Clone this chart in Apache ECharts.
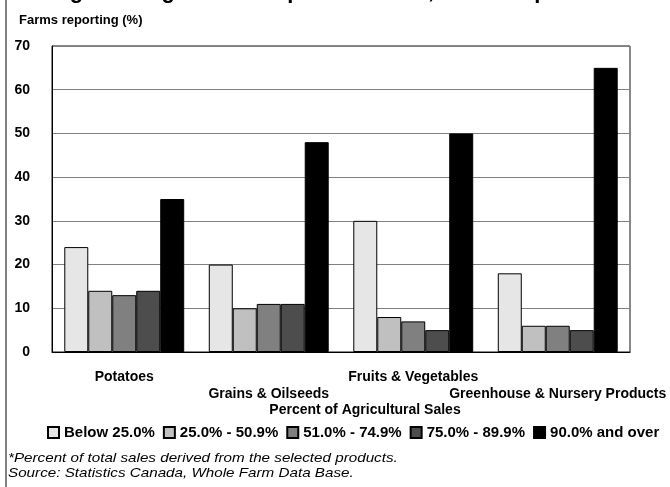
<!DOCTYPE html>
<html>
<head>
<meta charset="utf-8">
<script src="https://cdn.jsdelivr.net/npm/echarts@6/dist/echarts.min.js"></script>
<style>
html,body{margin:0;padding:0;background:#fff;}
#chart{width:670px;height:487px;}
</style>
</head>
<body>
<div id="chart"></div>
<script>
const categories = ['Potatoes', 'Grains & Oilseeds', 'Fruits & Vegetables', 'Greenhouse & Nursery Products'];
const seriesNames = ['Below 25.0%', '25.0% - 50.9%', '51.0% - 74.9%', '75.0% - 89.9%', '90.0% and over'];
const below25 = [24, 20, 30, 18];
const from25to50 = [14, 10, 8, 6];
const from51to74 = [13, 11, 7, 6];
const from75to89 = [14, 11, 5, 5];
const over90 = [35, 48, 50, 65];
const seriesValues = [below25, from25to50, from51to74, from75to89, over90];
const colors = ['#e6e6e6', '#c0c0c0', '#808080', '#4d4d4d', '#000000'];
const titleText = 'Degree of agricultural specialization*, selected products';
const yAxisTitle = 'Farms reporting (%)';
const xAxisTitle = 'Percent of Agricultural Sales';
const footnotes = ['*Percent of total sales derived from the selected products.', 'Source: Statistics Canada, Whole Farm Data Base.'];

const FONT = '"Liberation Sans", Arial, sans-serif';
const chart = echarts.init(document.getElementById('chart'), null, {renderer: 'canvas'});

const option = {
  animation: false,
  backgroundColor: '#fff',
  textStyle: {fontFamily: FONT},
  title: [
    {text: titleText, left: 'center', top: -24, textStyle: {fontFamily: FONT, fontSize: 22, fontWeight: 'bold', color: '#000'}},
    {text: yAxisTitle, left: 14, top: 9, textStyle: {fontFamily: FONT, fontSize: 13, fontWeight: 'bold', color: '#000'}}
  ],
  grid: {left: 52, right: 40, top: 46, bottom: 135, show: true, borderColor: '#111', borderWidth: 1, backgroundColor: 'transparent'},
  legend: {
    left: 47, top: 425, padding: 0, itemWidth: 11, itemHeight: 11, itemGap: 8,
    icon: 'rect', selectedMode: false,
    textStyle: {fontFamily: FONT, fontSize: 15, fontWeight: 'bold', color: '#000'},
    data: seriesNames
  },
  xAxis: {
    type: 'category', data: categories,
    axisLine: {show: true, lineStyle: {color: '#000', width: 1}},
    axisTick: {show: false},
    axisLabel: {
      interval: 0, margin: 17, fontFamily: FONT, fontSize: 14, fontWeight: 'bold', color: '#000', lineHeight: 17,
      formatter: function (v, i) { return i % 2 ? '\n' + v : v; }
    }
  },
  yAxis: {
    type: 'value', min: 0, max: 70, interval: 10,
    axisLine: {show: true, lineStyle: {color: '#000', width: 1}},
    axisTick: {show: false},
    axisLabel: {margin: 22, fontFamily: FONT, fontSize: 14, fontWeight: 'bold', color: '#000'},
    splitLine: {show: true, lineStyle: {color: '#808080', width: 1}}
  },
  graphic: [
    {type: 'line', shape: {x1: 6, y1: 0, x2: 6, y2: 487}, style: {stroke: '#808080', lineWidth: 2}},
    {type: 'text', x: 365, y: 410, style: {text: xAxisTitle, font: 'bold 14px ' + FONT, fill: '#000', textAlign: 'center', textVerticalAlign: 'middle'}},
    {type: 'text', x: 8, y: 458, scaleX: 1.17, style: {text: footnotes[0], font: 'italic 13px ' + FONT, fill: '#000', textAlign: 'left', textVerticalAlign: 'middle'}},
    {type: 'text', x: 8, y: 473, scaleX: 1.17, style: {text: footnotes[1], font: 'italic 13px ' + FONT, fill: '#000', textAlign: 'left', textVerticalAlign: 'middle'}}
  ],
  series: seriesNames.map(function (name, k) {
    return {
      name: name, type: 'bar', data: seriesValues[k],
      barGap: 0, barCategoryGap: '17%',
      itemStyle: {color: colors[k], borderColor: '#000', borderWidth: 1}
    };
  })
};
chart.setOption(option);
</script>
</body>
</html>
